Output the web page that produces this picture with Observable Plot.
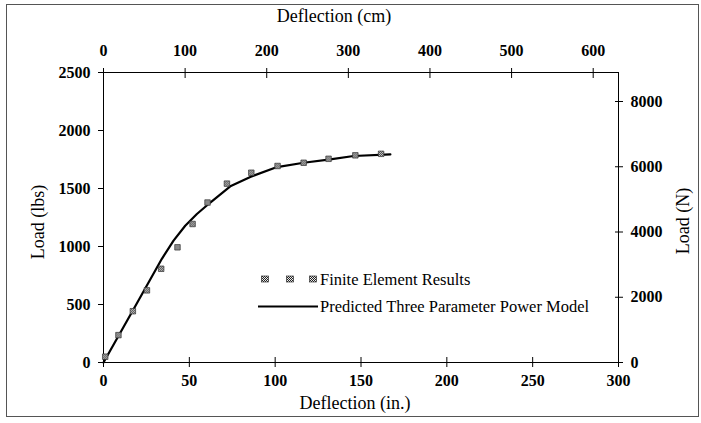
<!DOCTYPE html>
<html>
<head>
<meta charset="utf-8">
<script src="https://cdn.jsdelivr.net/npm/d3@7"></script>
<script src="https://cdn.jsdelivr.net/npm/@observablehq/plot@0.6"></script>
<style>
  html, body { margin: 0; padding: 0; background: #fff; }
  #chart { position: relative; width: 701px; height: 423px; }
  #chart svg { display: block; }
</style>
</head>
<body>
<div id="chart"></div>
<script>
// ---- data ----
const feDeflection = [1.0, 8.7, 17.1, 25.3, 33.6, 43.1, 51.9, 60.6, 71.9, 86.1, 101.4, 116.6, 131.1, 146.7, 161.7];
const feLoad       = [50, 236, 442, 622, 808, 993, 1194, 1379, 1542, 1636, 1694, 1722, 1756, 1786, 1799];
const modelDeflection = [0, 17.5, 34.0, 40.8, 47.6, 54.4, 62.2, 74.2, 85.5, 101.1, 116.6, 132.1, 145.7, 167.1];
const modelLoad       = [0, 459, 894, 1051, 1179, 1280, 1379, 1522, 1600, 1685, 1722, 1751, 1780, 1794];

const inTicks  = [0, 50, 100, 150, 200, 250, 300];
const lbsTicks = [0, 500, 1000, 1500, 2000, 2500];
const cmTicks  = [0, 100, 200, 300, 400, 500, 600];
const nTicks   = [0, 2000, 4000, 6000, 8000];
const cmAtRightEdge = 631;   // top axis value at x = 300 in.
const nAtTop = 8889;         // right axis value at y = 2500 lbs

const seriesNames = ["Finite Element Results", "Predicted Three Parameter Power Model"];

const fe = feDeflection.map((d, i) => ({x: d, y: feLoad[i]}));
const model = modelDeflection.map((d, i) => ({x: d, y: modelLoad[i]}));

const cmToIn = c => c * 300 / cmAtRightEdge;
const nToLbs = n => n * 2500 / nAtTop;

const svg = Plot.plot({
  width: 701,
  height: 423,
  marginLeft: 103,
  marginRight: 83,
  marginTop: 72,
  marginBottom: 61,
  style: {fontFamily: "Liberation Serif", fontSize: "16px", fontWeight: "bold", color: "#000", background: "transparent"},
  x: {domain: [0, 300]},
  y: {domain: [0, 2500]},
  marks: [
    Plot.frame({stroke: "#000", strokeWidth: 1}),
    Plot.axisY(lbsTicks, {anchor: "left", tickSize: 5, tickPadding: 8, label: null, tickFormat: d => String(d)}),
    Plot.axisX(inTicks, {anchor: "bottom", tickSize: 5, tickPadding: 7, label: null, tickFormat: d => String(d)}),
    Plot.axisX(inTicks, {anchor: "bottom", tickSize: -5, tickFormat: () => "", label: null}),
    Plot.axisX(cmTicks.map(cmToIn), {anchor: "top", tickSize: 5, tickPadding: 12, label: null,
      tickFormat: d => String(Math.round(d * cmAtRightEdge / 300))}),
    Plot.axisX(cmTicks.map(cmToIn), {anchor: "top", tickSize: -5, tickFormat: () => "", label: null}),
    Plot.axisY(nTicks.map(nToLbs), {anchor: "right", tickSize: 4, tickPadding: 8, label: null,
      tickFormat: d => String(Math.round(d * nAtTop / 2500))}),
    Plot.axisY(nTicks.map(nToLbs), {anchor: "right", tickSize: -4, tickFormat: () => "", label: null}),
    Plot.line(model, {x: "x", y: "y", stroke: "#000", strokeWidth: 2.2}),
    Plot.dot(fe, {x: "x", y: "y", symbol: "square", r: 3.1, fill: "url(#hatch)", stroke: "#333", strokeWidth: 0.7})
  ]
});

const s = d3.select(svg);
const defs = s.insert("defs", ":first-child");
const pat = defs.append("pattern").attr("id", "hatch").attr("patternUnits", "userSpaceOnUse")
  .attr("width", 2).attr("height", 2);
pat.append("rect").attr("width", 2).attr("height", 2).attr("fill", "#eee");
pat.append("rect").attr("width", 1).attr("height", 1).attr("fill", "#222");
pat.append("rect").attr("x", 1).attr("y", 1).attr("width", 1).attr("height", 1).attr("fill", "#222");

// outer border
s.insert("rect", ":first-child").attr("x", 6.5).attr("y", 4.5).attr("width", 692).attr("height", 412)
  .attr("fill", "none").attr("stroke", "#555").attr("stroke-width", 1);

// axis titles
const title = (txt, x, y, rot) => s.append("text").text(txt)
  .attr("transform", `translate(${x},${y})` + (rot ? ` rotate(${rot})` : ""))
  .attr("text-anchor", "middle").attr("dy", "0.35em")
  .attr("font-family", "Liberation Serif").attr("font-size", 18).attr("font-weight", "normal").attr("fill", "#000");
title("Deflection (cm)", 334, 16);
title("Deflection (in.)", 355, 403);
title("Load (lbs)", 38, 222, -90);
title("Load (N)", 683, 221, -90);

// legend
const lg = s.append("g").attr("font-family", "Liberation Serif").attr("font-size", 16.5)
  .attr("font-weight", "normal").attr("text-anchor", "start").attr("fill", "#000");
[265, 290, 313].forEach(cx => lg.append("rect").attr("x", cx - 3.5).attr("y", 279 - 3).attr("width", 7).attr("height", 6)
  .attr("fill", "url(#hatch)").attr("stroke", "#333").attr("stroke-width", 0.7));
lg.append("text").text(seriesNames[0]).attr("x", 320).attr("y", 279).attr("dy", "0.35em").attr("text-anchor", "start");
lg.append("line").attr("x1", 258).attr("x2", 318).attr("y1", 306.5).attr("y2", 306.5)
  .attr("stroke", "#000").attr("stroke-width", 2.2);
lg.append("text").text(seriesNames[1]).attr("x", 320).attr("y", 306.5).attr("dy", "0.35em").attr("text-anchor", "start");

document.getElementById("chart").appendChild(svg);
</script>
</body>
</html>
